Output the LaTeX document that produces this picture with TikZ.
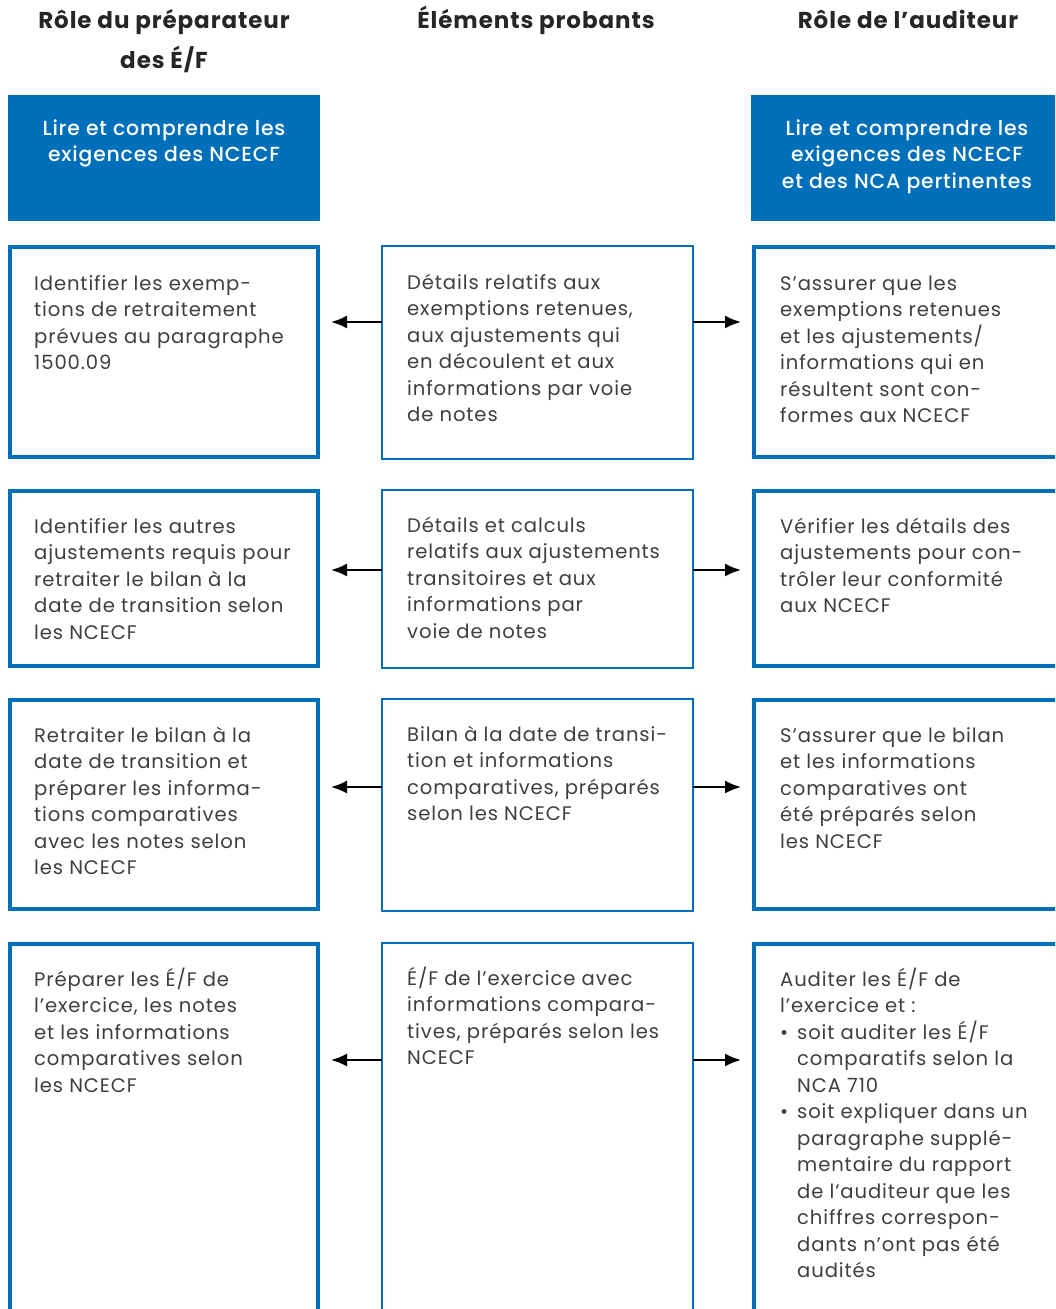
\documentclass[tikz,border=0pt]{standalone}
\usepackage{fontspec}
\setmainfont{Poppins}
\newfontfamily\bodyfont{Poppins}[LetterSpace=4.5]
\newfontfamily\titlefont{Poppins}[LetterSpace=4]
\newfontfamily\bluefont{Poppins Medium}[LetterSpace=4]
\usetikzlibrary{positioning,arrows.meta}

\definecolor{cpablue}{RGB}{0,111,186}
\definecolor{bodygray}{RGB}{62,62,62}
\definecolor{headgray}{RGB}{38,38,38}

% paragraph helpers, first baseline = node base
\newcommand{\leftpar}[1]{\parbox[t]{280pt}{\raggedright\bodyfont\fontsize{19.6}{26.5}\selectfont #1}}
\newcommand{\centpar}[1]{\parbox[t]{300pt}{\centering\bluefont\fontsize{20.4}{26.7}\selectfont #1}}
\newcommand{\headpar}[1]{\parbox[t]{340pt}{\centering\titlefont\bfseries\fontsize{23}{40}\selectfont #1}}
\newcommand{\bul}{\makebox[17pt][l]{\textbullet}}
\newcommand{\ind}{\hspace*{17pt}}

\tikzset{
  headbox/.style={anchor=north west, fill=cpablue, draw=none, inner sep=0pt, outer sep=0pt},
  sidebox/.style={anchor=north west, draw=cpablue, line width=4pt, inner sep=0pt, outer sep=0pt},
  midbox/.style={anchor=north west, draw=cpablue, line width=2pt, inner sep=0pt, outer sep=0pt},
  boxtext/.style={anchor=base west, inner sep=0pt, text=bodygray},
  bluetext/.style={anchor=base, inner sep=0pt, text=white},
  coltitle/.style={anchor=base, inner sep=0pt, text=headgray},
  flow/.style={-{Latex[length=16pt,width=13pt]}, line width=2pt, shorten >=13pt}
}

\begin{document}
\begin{tikzpicture}[x=1pt, y=-1pt]
\useasboundingbox (0,0) rectangle (1055,1309);
\clip (0,0) rectangle (1055,1309);

% column titles
\node[coltitle] (tprep) at (164,28) {\headpar{Rôle du préparateur\\des É/F}};
\node[coltitle] (tevid) at (536,28) {\headpar{Éléments probants}};
\node[coltitle] (taud) at (908,28) {\headpar{Rôle de l’auditeur}};

% blue boxes
\node[headbox, minimum width=312pt, minimum height=126pt] (prep0) at (8,95) {};
\node[headbox, minimum width=310pt, minimum height=126pt] (aud0) at (751,95) {};
\node[bluetext] (prep0t) at (164,135) {\centpar{Lire et comprendre les\\exigences des NCECF}};
\node[bluetext] (aud0t) at (907,135) {\centpar{Lire et comprendre les\\exigences des NCECF\\et des NCA pertinentes}};

% row 1
\node[sidebox, minimum width=308pt, minimum height=210pt] (prep1) at (10,247) {};
\node[midbox, minimum width=311pt, minimum height=213pt] (evid1) at (382,246) {};
\node[sidebox, minimum width=320pt, minimum height=210pt] (aud1) at (754,247) {};
\node[boxtext] (prep1t) at (34,290) {\leftpar{Identifier les exemp-\\tions de retraitement\\prévues au paragraphe\\1500.09}};
\node[boxtext] (evid1t) at (407,289) {\leftpar{Détails relatifs aux\\exemptions retenues,\\aux ajustements qui\\en découlent et aux\\informations par voie\\de notes}};
\node[boxtext] (aud1t) at (780,290) {\leftpar{S’assurer que les\\exemptions retenues\\et les ajustements/\\informations qui en\\résultent sont con-\\formes aux NCECF}};

% row 2
\node[sidebox, minimum width=308pt, minimum height=175pt] (prep2) at (10,491) {};
\node[midbox, minimum width=311pt, minimum height=178pt] (evid2) at (382,490) {};
\node[sidebox, minimum width=320pt, minimum height=175pt] (aud2) at (754,491) {};
\node[boxtext] (prep2t) at (34,533) {\leftpar{Identifier les autres\\ajustements requis pour\\retraiter le bilan à la\\date de transition selon\\les NCECF}};
\node[boxtext] (evid2t) at (407,532) {\leftpar{Détails et calculs\\relatifs aux ajustements\\transitoires et aux\\informations par\\voie de notes}};
\node[boxtext] (aud2t) at (780,533) {\leftpar{Vérifier les détails des\\ajustements pour con-\\trôler leur conformité\\aux NCECF}};

% row 3
\node[sidebox, minimum width=308pt, minimum height=209pt] (prep3) at (10,700) {};
\node[midbox, minimum width=311pt, minimum height=212pt] (evid3) at (382,699) {};
\node[sidebox, minimum width=320pt, minimum height=209pt] (aud3) at (754,700) {};
\node[boxtext] (prep3t) at (34,742) {\leftpar{Retraiter le bilan à la\\date de transition et\\préparer les informa-\\tions comparatives\\avec les notes selon\\les NCECF}};
\node[boxtext] (evid3t) at (407,741) {\leftpar{Bilan à la date de transi-\\tion et informations\\comparatives, préparés\\selon les NCECF}};
\node[boxtext] (aud3t) at (780,742) {\leftpar{S’assurer que le bilan\\et les informations\\comparatives ont\\été préparés selon\\les NCECF}};

% row 4 (runs off the page)
\node[sidebox, minimum width=308pt, minimum height=420pt] (prep4) at (10,944) {};
\node[midbox, minimum width=311pt, minimum height=420pt] (evid4) at (382,943) {};
\node[sidebox, minimum width=320pt, minimum height=420pt] (aud4) at (754,944) {};
\node[boxtext] (prep4t) at (34,986) {\leftpar{Préparer les É/F de\\l’exercice, les notes\\et les informations\\comparatives selon\\les NCECF}};
\node[boxtext] (evid4t) at (407,985) {\leftpar{É/F de l’exercice avec\\informations compara-\\tives, préparés selon les\\NCECF}};
\node[boxtext] (aud4t) at (780,986) {\leftpar{Auditer les É/F de\\l’exercice et :\\\bul soit auditer les É/F\\\ind comparatifs selon la\\\ind NCA 710\\\bul soit expliquer dans un\\\ind paragraphe supplé-\\\ind mentaire du rapport\\\ind de l’auditeur que les\\\ind chiffres correspon-\\\ind dants n’ont pas été\\\ind audités}};

% arrows
\coordinate (a1) at (0,322);
\coordinate (a2) at (0,570);
\coordinate (a3) at (0,787);
\coordinate (a4) at (0,1060);
\foreach \r in {1,...,4}{
  \draw[flow] (evid\r.west |- a\r) -- (prep\r.east |- a\r);
  \draw[flow] (evid\r.east |- a\r) -- (aud\r.west |- a\r);
}
\end{tikzpicture}
\end{document}
